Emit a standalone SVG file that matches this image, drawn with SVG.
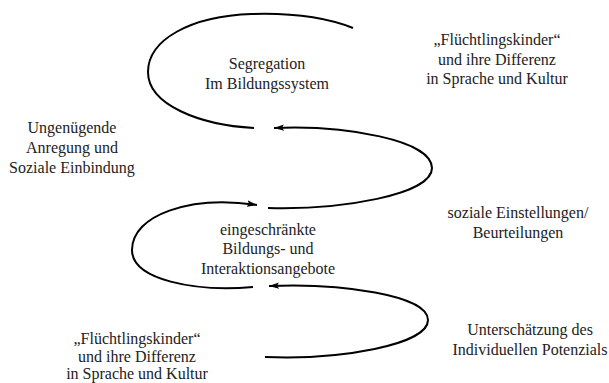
<svg xmlns="http://www.w3.org/2000/svg" width="609" height="383" viewBox="0 0 609 383">
<style>
.t{font-family:'Liberation Serif','DejaVu Serif',serif;font-size:16px;fill:#222;text-anchor:middle}
.c{fill:none;stroke:#000;stroke-width:2}
</style>
<defs>
<marker id="ah" markerUnits="userSpaceOnUse" markerWidth="12" markerHeight="8" refX="10" refY="4" orient="auto">
<path d="M0,0.8 L10,4 L0,7.2 L2,4 Z" fill="#000"/>
</marker>
</defs>
<rect width="609" height="383" fill="#fff"/>
<g id="connectors">
<path class="c" d="M353,28 C320,15 285,13 252,14 C190,16 148,40 148,72 C148,105 200,125 254,128"/>
<path class="c" d="M268,208 C340,210 432,195 432,168 C432,140 345,125 274,128" marker-end="url(#ah)"/>
<path class="c" d="M253,287 C195,292 132,280 132,250 C132,215 190,195 257,205" marker-end="url(#ah)"/>
<path class="c" d="M265,357 C340,360 428,345 428,320 C428,295 340,283 269,286" marker-end="url(#ah)"/>
</g>
<g id="segregation">
<text class="t" x="267" y="69">Segregation</text>
<text class="t" x="267" y="89">Im Bildungssystem</text>
</g>
<g id="fluechtlinge-top">
<text class="t" x="497" y="45">„Flüchtlingskinder“</text>
<text class="t" x="497" y="65">und ihre Differenz</text>
<text class="t" x="497" y="84">in Sprache und Kultur</text>
</g>
<g id="anregung">
<text class="t" x="72" y="133">Ungenügende</text>
<text class="t" x="72" y="153">Anregung und</text>
<text class="t" x="72" y="173">Soziale Einbindung</text>
</g>
<g id="angebote">
<text class="t" x="268" y="235">eingeschränkte</text>
<text class="t" x="268" y="254">Bildungs-  und</text>
<text class="t" x="268" y="274">Interaktionsangebote</text>
</g>
<g id="einstellungen">
<text class="t" x="518" y="218">soziale Einstellungen/</text>
<text class="t" x="518" y="238">Beurteilungen</text>
</g>
<g id="unterschaetzung">
<text class="t" x="530" y="335">Unterschätzung des</text>
<text class="t" x="530" y="355">Individuellen Potenzials</text>
</g>
<g id="fluechtlinge-bottom">
<text class="t" x="137" y="344">„Flüchtlingskinder“</text>
<text class="t" x="137" y="361.5">und ihre Differenz</text>
<text class="t" x="137" y="379">in Sprache und Kultur</text>
</g>
</svg>
